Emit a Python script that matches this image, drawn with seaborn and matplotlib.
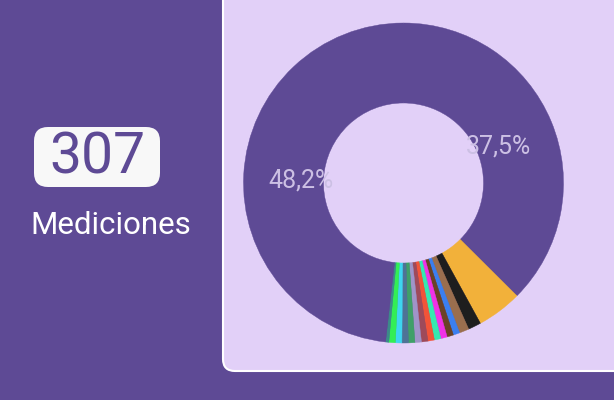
import matplotlib
matplotlib.use("Agg")
import matplotlib.pyplot as plt
import seaborn as sns
import numpy as np
from matplotlib.patches import FancyBboxPatch

# ---- data ----
total_label = "307"
caption = "Mediciones"
counts = [115, 14, 4, 3, 2, 2, 2, 2, 2, 2, 2, 2, 2, 2, 2, 1, 148]
colors = ["#5E4A95", "#F2B13A", "#1E1E1E", "#9A6E4E", "#3B7FF0", "#6B4226",
          "#F032E6", "#36E8B0", "#F25438", "#9E4A5A", "#A094C8", "#3FA068",
          "#4E7396", "#3DD6F0", "#33EE55", "#3C8A8A", "#5E4A95"]
shown_labels = {0: "37,5%", 16: "48,2%"}

BG = "#5E4A95"
PANEL = "#E2D0F8"

sns.set_style("white")
plt.rcParams["font.family"] = ["Roboto", "DejaVu Sans"]

W, H = 614, 400
fig = plt.figure(figsize=(W / 100, H / 100), dpi=100, facecolor=BG)

# background canvas in pixel coordinates
bg = fig.add_axes([0, 0, 1, 1])
bg.set_xlim(0, W)
bg.set_ylim(H, 0)
bg.axis("off")
bg.set_facecolor(BG)

panel = FancyBboxPatch((223, -20), 420, 391, boxstyle="round,pad=0,rounding_size=12",
                       facecolor=PANEL, edgecolor="white", linewidth=1.5)
bg.add_patch(panel)

box = FancyBboxPatch((34, 127), 126, 60, boxstyle="round,pad=0,rounding_size=14",
                     facecolor="#F8F8F8", edgecolor="none")
bg.add_patch(box)
bg.text(97, 158, total_label, ha="center", va="center", fontsize=41,
        color="#5E4A95")
bg.text(111, 226, caption, ha="center", va="center", fontsize=22.5,
        color="white")

# donut
cx, cy, r = 403.5, 183, 160
ax = fig.add_axes([(cx - r) / W, (H - cy - r) / H, 2 * r / W, 2 * r / H])
# base ring to avoid seams between same-coloured wedges
ax.pie([1], colors=[colors[0]], radius=0.995,
       wedgeprops=dict(width=0.49, linewidth=0))
wedges, _ = ax.pie(counts, colors=colors, startangle=90, counterclock=False,
                   radius=1.0, wedgeprops=dict(width=0.5, linewidth=0))
for w in wedges:
    w.set_edgecolor(w.get_facecolor())
    w.set_linewidth(0.3)
ax.set_xlim(-1, 1)
ax.set_ylim(-1, 1)
ax.set_aspect("equal")
ax.axis("off")

for i, txt in shown_labels.items():
    w = wedges[i]
    ang = np.deg2rad((w.theta1 + w.theta2) / 2)
    rr = 0.64
    ax.text(rr * np.cos(ang), rr * np.sin(ang) - 0.02, txt, ha="center", va="center",
            fontsize=18, color="#CCC0E4")

fig.savefig("out.png", dpi=100, facecolor=BG)
